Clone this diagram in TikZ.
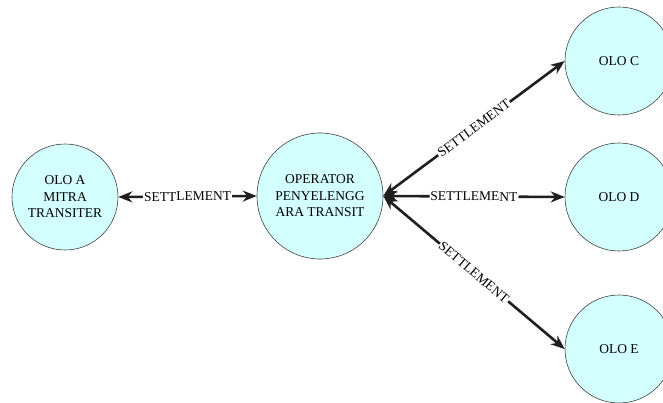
\documentclass[tikz,border=0pt]{standalone}
\usepackage{fontspec}
\setmainfont{Liberation Serif}
\usetikzlibrary{arrows.meta,positioning}
\definecolor{olofill}{RGB}{212,255,255}

\begin{document}
\begin{tikzpicture}[x=1pt, y=1pt, >={Stealth[length=14pt,width=11pt]}, olo/.style={draw=black!75, line width=0.6pt, circle, fill=olofill, align=center, minimum size=108pt, inner sep=0pt, font=\fontsize{13.5}{16.5}\selectfont}, link/.style={<->, line width=2.6pt, draw=black!88}, lbl/.style={fill=white, inner sep=1pt, font=\fontsize{13.5}{16}\selectfont, sloped}]
\useasboundingbox (0,0) rectangle (663,402);
\clip (0,0) rectangle (663,402);
\node[olo, minimum size=106pt] (oloa) at (65,205) {OLO A\\MITRA\\TRANSITER};
\node[olo, minimum size=126pt] (opr) at (320,206) {OPERATOR\\PENYELENGG\\ARA TRANSIT};
\node[olo] (oloc) at (619,341) {OLO C};
\node[olo] (olod) at (619,205) {OLO D};
\node[olo] (oloe) at (619,53) {OLO E};
\draw[link] (oloa.east) -- node[lbl] {SETTLEMENT} (opr.west);
\draw[link] (opr.east) -- node[lbl] {SETTLEMENT} (oloc.west);
\draw[link] (opr.east) -- node[lbl] {SETTLEMENT} (olod.west);
\draw[link] (opr.east) -- node[lbl] {SETTLEMENT} (oloe.west);
\end{tikzpicture}
\end{document}
